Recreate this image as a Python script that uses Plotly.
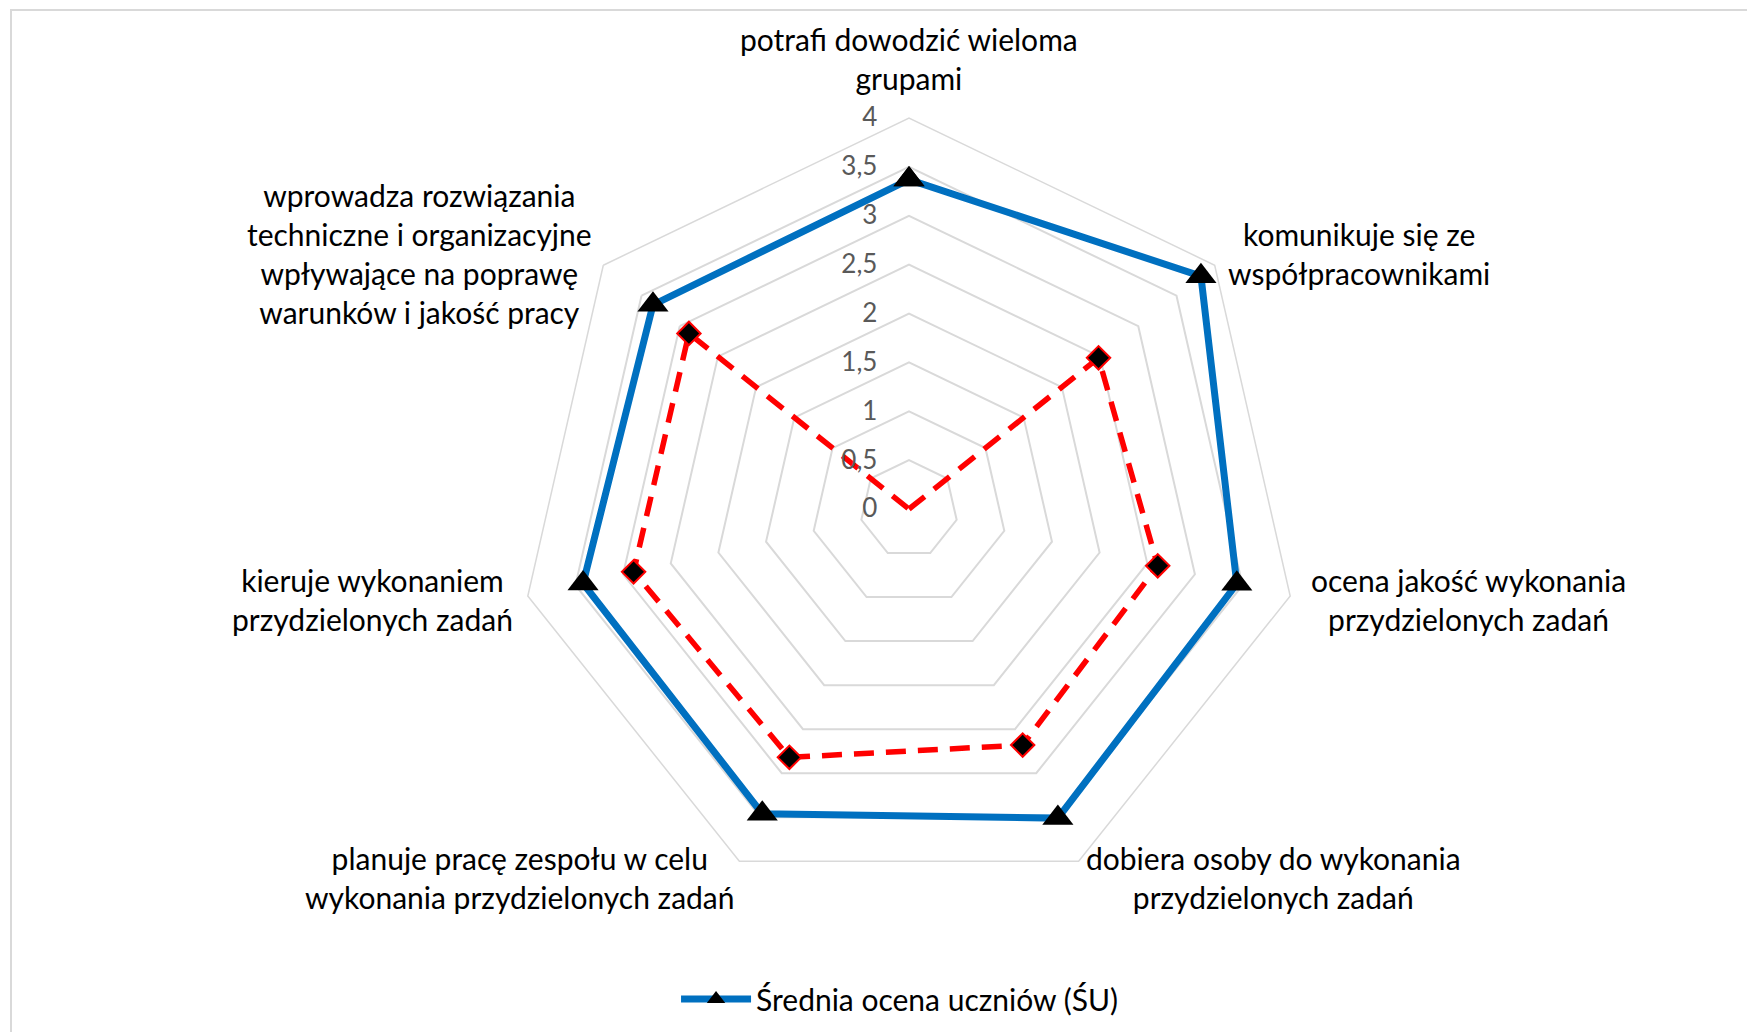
import plotly.graph_objects as go

categories = [
    "potrafi dowodzić wieloma<br>grupami",
    "komunikuje się ze<br>współpracownikami",
    "ocena jakość wykonania<br>przydzielonych zadań",
    "dobiera osoby do wykonania<br>przydzielonych zadań",
    "planuje pracę zespołu w celu<br>wykonania przydzielonych zadań",
    "kieruje wykonaniem<br>przydzielonych zadań",
    "wprowadza rozwiązania<br>techniczne i organizacyjne<br>wpływające na poprawę<br>warunków i jakość pracy",
]
su_values = [3.37, 3.82, 3.44, 3.51, 3.46, 3.42, 3.35]
second_values = [0.0, 2.48, 2.61, 2.68, 2.82, 2.89, 2.88]
radial_ticks = [0, 0.5, 1, 1.5, 2, 2.5, 3, 3.5, 4]

# label block centres (figure pixels) for the category labels, Excel-style placement
label_pos = [(901, 51), (1351, 246), (1460, 591), (1265, 869),
             (512, 869), (364, 591), (411, 246)]

W, H = 1755, 1032
cx, cy, R = 901, 501, 391

def closed(v):
    return list(v) + [v[0]]

fig = go.Figure()
fig.add_trace(go.Scatterpolar(
    r=closed(second_values), theta=closed(categories),
    mode="lines+markers", name="Seria 2", showlegend=False,
    line=dict(color="#FF0000", width=5.5, dash="20px,12px"),
    marker=dict(symbol="diamond", size=18, color="black",
                line=dict(color="#FF0000", width=2)),
))
fig.add_trace(go.Scatterpolar(
    r=closed(su_values), theta=closed(categories),
    mode="lines+markers", name="Średnia ocena uczniów (ŚU)",
    line=dict(color="#0070C0", width=7),
    marker=dict(symbol="triangle-up", size=27, color="black"),
))

annotations = [
    dict(text=lab, x=px / W, y=1 - py / H, xref="paper", yref="paper",
         xanchor="center", yanchor="middle", align="center", showarrow=False,
         font=dict(family="Lato", size=30, color="black"))
    for lab, (px, py) in zip(categories, label_pos)
]

fig.update_layout(
    width=W, height=H,
    margin=dict(l=0, r=0, t=0, b=0),
    paper_bgcolor="white", plot_bgcolor="white",
    separators=", ",
    font=dict(family="Lato", size=27, color="black"),
    polar=dict(
        domain=dict(x=[(cx - R) / W, (cx + R) / W],
                    y=[(H - cy - R) / H, (H - cy + R) / H]),
        bgcolor="white",
        gridshape="linear",
        radialaxis=dict(
            range=[0, 4], tickvals=radial_ticks, angle=90,
            side="counterclockwise", tickangle=90,
            showline=False, ticks="outside", ticklen=22,
            tickcolor="rgba(0,0,0,0)",
            gridcolor="#D9D9D9", gridwidth=1.5,
            tickfont=dict(color="#595959", size=26),
        ),
        angularaxis=dict(
            direction="clockwise", rotation=90,
            showgrid=False, showline=True, showticklabels=False,
            linecolor="#D9D9D9", linewidth=1.5, ticks="",
        ),
    ),
    annotations=annotations,
    legend=dict(orientation="h", x=0.508, xanchor="center", y=0.0145, yanchor="bottom",
                itemwidth=70, itemsizing="trace",
                font=dict(family="Lato", size=30, color="black")),
    shapes=[dict(type="rect", xref="paper", yref="paper",
                 x0=3 / W, x1=1.02, y0=-0.02, y1=1 - 2 / H,
                 line=dict(color="#D9D9D9", width=2), fillcolor="rgba(0,0,0,0)",
                 layer="below")],
)

fig.write_html("out.html")
